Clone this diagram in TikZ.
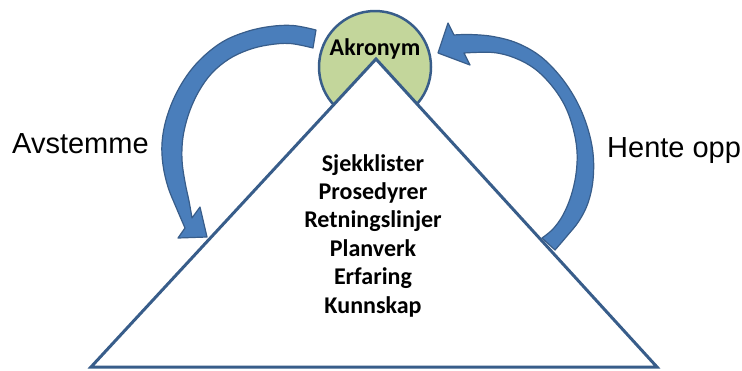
\documentclass[tikz,border=0pt]{standalone}
\usepackage{fontspec}
\newfontfamily\boldlabel{Carlito}[Scale=1.0]
\newfontfamily\sidelabel{Liberation Sans}
\definecolor{edgeblue}{RGB}{56,93,138}
\definecolor{arrowblue}{RGB}{74,126,187}
\definecolor{akrgreen}{RGB}{195,214,155}
\begin{document}
\begin{tikzpicture}[x=1pt,y=-1pt,
  bentarrow/.style={fill=arrowblue, draw=edgeblue, line width=1.2pt, line join=round},
  pyramid/.style={fill=white, draw=edgeblue, line width=3pt, line join=miter},
  topcircle/.style={circle, fill=akrgreen, draw=edgeblue, line width=2.5pt, inner sep=0pt, minimum size=112pt},
  itemtext/.style={font=\boldlabel\bfseries\fontsize{24}{28}\selectfont, anchor=base, inner sep=0pt},
  sidetext/.style={font=\sidelabel\fontsize{29}{34}\selectfont, anchor=base west, inner sep=0pt}]
\useasboundingbox (0,0) rectangle (742,370);

% curved arrow on the left: from the circle down to the pyramid
\path[bentarrow]
  plot[smooth, tension=0.6] coordinates {(316,30) (293,25.5) (270,26.5) (247,31.5) (224,41) (204,56) (188,74) (175,96) (166,120) (162,143) (163,165) (168,187) (176,207) (185,228)}
  -- (178,238) -- (207,237) -- (200,207) -- (192,218)
  -- plot[smooth, tension=0.6] coordinates {(192,218) (189,201) (185,182) (182,160) (183,137) (189,113) (199,91) (212,73) (229,59) (248,50) (268,45) (290,43.5) (313,48)}
  -- cycle;

% curved arrow on the right: from the pyramid back up to the circle
\path[bentarrow]
  (448,23) -- (438,53) -- (470,65) -- (464,53)
  -- plot[smooth, tension=0.6] coordinates {(464,53) (493,52.5) (515,58) (535,69) (552,86) (565,106) (573,128) (577,151) (576,174) (571,196) (563,215) (553,229) (542,238)}
  -- (555,250)
  -- plot[smooth, tension=0.6] coordinates {(555,250) (567,236) (579,221) (588,203) (593,180) (593,153) (587,126) (576,100) (560,76) (540,56) (517,43) (493,36.5) (470,34.5) (454,35)}
  -- cycle;

% circle behind the apex
\node[topcircle] (akr) at (375,67) {};

% the pyramid
\coordinate (apex) at (376,59);
\coordinate (baseL) at (91,367);
\coordinate (baseR) at (657,367);
\draw[pyramid] (apex) -- (baseL) -- (baseR) -- cycle;

\node[itemtext] (akrlabel) at (375,55) {Akronym};

\foreach \t [count=\i] in {Sjekklister,Prosedyrer,Retningslinjer,Planverk,Erfaring,Kunnskap}
  \node[itemtext] (item\i) at (373,{171+28.4*(\i-1)}) {\t};

\node[sidetext] (left) at (12,153) {Avstemme};
\node[sidetext] (right) at (607,157) {Hente opp};
\end{tikzpicture}
\end{document}
